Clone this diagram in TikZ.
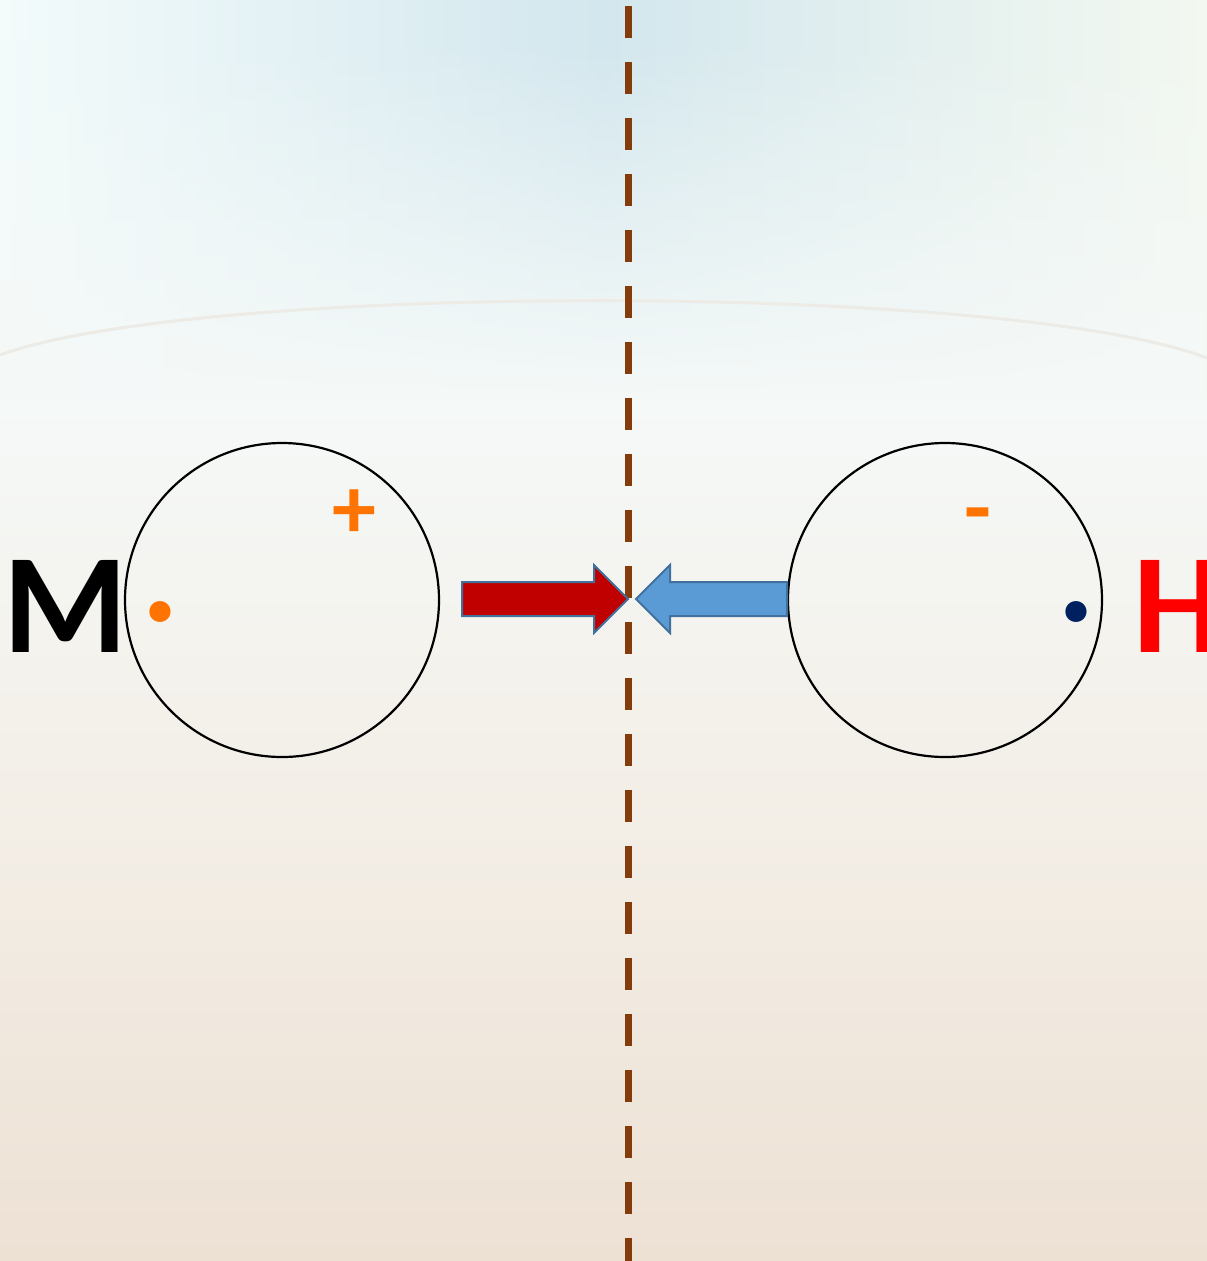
\documentclass[tikz,border=0pt]{standalone}
\usepackage{fontspec}
\setmainfont{Carlito}
\usetikzlibrary{fadings}
\definecolor{bgTL}{HTML}{F3FBFB}
\definecolor{bgTC}{HTML}{D3E7EE}
\definecolor{bgTR}{HTML}{F3F8F0}
\definecolor{bgMid}{HTML}{F5F9F8}
\definecolor{bgLow}{HTML}{F3EEE6}
\definecolor{bgBot}{HTML}{EDE1D4}
\definecolor{arcC}{HTML}{ECEBE6}
\definecolor{dashC}{HTML}{843C0C}
\definecolor{redA}{HTML}{C00000}
\definecolor{blueA}{HTML}{5B9BD5}
\definecolor{edgeA}{HTML}{41719C}
\definecolor{orangeC}{HTML}{FF7300}
\definecolor{navyC}{HTML}{002060}
\tikzset{
  atom/.style={circle, draw=black, line width=2.2pt, minimum size=314pt, inner sep=0pt},
  blockarrow/.style={draw=edgeA, line width=2pt, line join=miter},
  midline/.style={draw=dashC, line width=7pt, dash pattern=on 32pt off 24pt},
  bigletter/.style={font=\fontsize{142}{142}\selectfont\bfseries, inner sep=0pt, anchor=base},
  sign/.style={font=\fontsize{88}{88}\selectfont\bfseries, text=orangeC, inner sep=0pt, anchor=base},
}
\begin{document}
\begin{tikzpicture}[x=1pt,y=-1pt]
\useasboundingbox (0,0) rectangle (1207,1261);
% background
\shade[left color=bgTL, right color=bgTR, middle color=bgTC] (0,0) rectangle (1207,400);
\fill[bgMid, path fading=north] (0,40) rectangle (1207,400);
\shade[top color=bgMid, bottom color=bgBot, middle color=bgLow] (0,399) rectangle (1207,1261);
\draw[arcC, line width=3pt] (0,355) .. controls (200,282) and (1010,282) .. (1207,358);
% dashed mid line
\coordinate (ltop) at (628,6);
\coordinate (lbot) at (628,1261);
\draw[midline] (ltop) -- (lbot);
% atoms
\node[atom] (atomL) at (282,600) {};
\node[atom] (atomR) at (945,600) {};
% block arrows
\draw[blockarrow, fill=redA] (462,582) -- (594,582) -- (594,565) -- (628,599) -- (594,633) -- (594,616) -- (462,616) -- cycle;
\draw[blockarrow, fill=blueA] (787,582) -- (670,582) -- (670,565) -- (636,599) -- (670,633) -- (670,616) -- (787,616) -- cycle;
% letters
\node[bigletter, text=black] (M) at (66,652) {M};
\node[bigletter, text=red] (H) at (1178,652) {H};
\node[bigletter, text=orangeC] (dotL) at (160.5,621) {.};
\node[bigletter, text=navyC] (dotR) at (1076.5,621) {.};
\node[sign] (plus) at (354,538) {+};
\node[sign] (minus) at (978,537) {-};
\end{tikzpicture}
\end{document}
